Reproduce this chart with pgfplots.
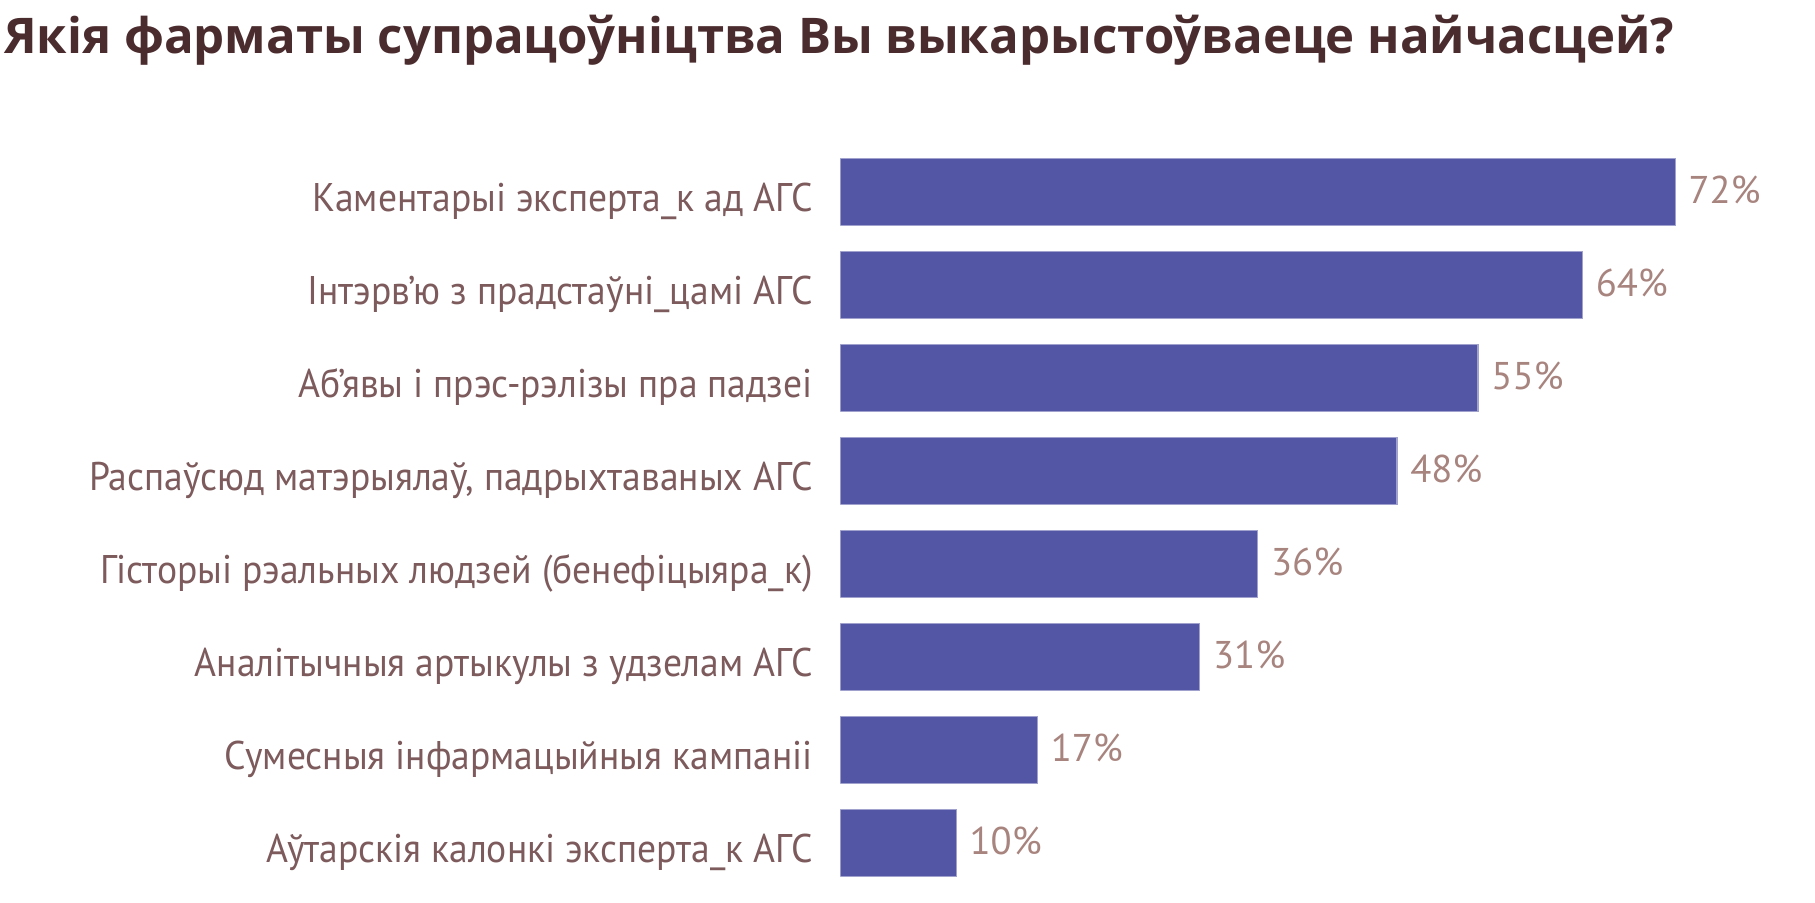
\documentclass[border=0pt]{standalone}
\usepackage{fontspec}
\setmainfont{PT Sans}
\newfontfamily\labfont{PT Sans}[FakeStretch=0.94]
\newfontfamily\titlefont{Open Sans}[UprightFont=* Bold]
\usepackage{pgfplots}
\pgfplotsset{compat=1.18}
\definecolor{barc}{HTML}{5355A5}
\definecolor{titlec}{HTML}{4B2C2E}
\definecolor{labc}{HTML}{7D5A5C}
\definecolor{valc}{HTML}{A8847F}
\begin{document}
\begin{tikzpicture}
% 1 px of the reference = 0.3pt
\useasboundingbox (0,0) rectangle (544.5pt,270.9pt);
\node[anchor=base west, inner sep=0pt, text=titlec,
  font=\titlefont\fontsize{14.75}{17}\selectfont] at (1pt,254.7pt)
  {Якія фарматы супрацоўніцтва Вы выкарыстоўваеце найчасцей?};
\begin{axis}[
  at={(252.1pt,4.11pt)}, anchor=south west,
  scale only axis, width=292.4pt, height=223.2pt,
  xbar, bar width=20.1pt,
  xmin=0, xmax=84.05, ymin=-0.5, ymax=7.5,
  y dir=reverse,
  xtick=\empty,
  ytick={0,...,7},
  yticklabels={
    Каментарыі эксперта\_к ад АГС,
    Інтэрв’ю з прадстаўні\_цамі АГС,
    Аб’явы і прэс-рэлізы пра падзеі,
    Распаўсюд матэрыялаў{,} падрыхтаваных АГС,
    Гісторыі рэальных людзей (бенефіцыяра\_к),
    Аналітычныя артыкулы з удзелам АГС,
    Сумесныя інфармацыйныя кампаніі,
    Аўтарскія калонкі эксперта\_к АГС},
  yticklabel style={font=\labfont\fontsize{12}{14}\selectfont, text=labc,
    anchor=base east, inner sep=0pt, xshift=-8.1pt, yshift=-6pt},
  major tick length=0pt,
  axis line style={draw=none},
  point meta=x,
  nodes near coords={\pgfmathprintnumber[assume math mode=true]{\pgfplotspointmeta}\%},
  every node near coord/.append style={font=\fontsize{11.6}{14}\selectfont,
    text=valc, anchor=base west, inner sep=0pt, xshift=3.8pt, yshift=-3.6pt},
]
\addplot[fill=barc, draw=barc!55!white, line width=0.4pt] coordinates {
  (72,0) (64,1) (55,2) (48,3) (36,4) (31,5) (17,6) (10,7)
};
\end{axis}
\end{tikzpicture}
\end{document}
